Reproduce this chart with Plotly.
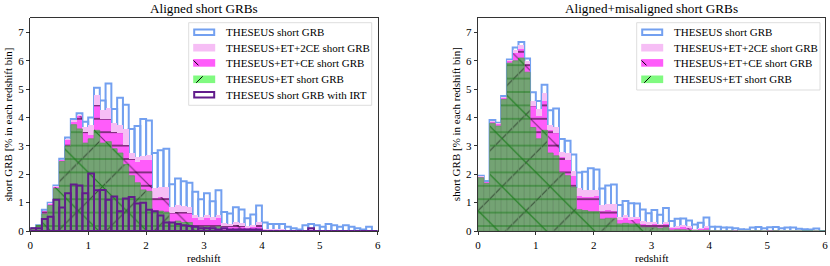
import plotly.graph_objects as go

W, H = 830, 266

# ---------------- data (percent of GRBs per redshift bin, bin width 0.1) ----------------
bin_left = [round(0.1 * i, 1) for i in range(60)]
z_mid = [round(b + 0.05, 2) for b in bin_left]

# Left panel: aligned short GRBs
theseus_L = [0.1, 0.2, 0.75, 1.0, 1.6, 2.55, 3.3, 3.95, 4.15, 3.85,
             4.0, 5.05, 4.6, 5.2, 4.3, 4.7, 4.45, 3.6, 3.7, 3.95,
             3.9, 2.75, 2.85, 2.9, 1.65, 1.85, 1.75, 1.7, 1.38, 1.12,
             1.33, 1.05, 1.44, 0.67, 0.62, 0.84, 0.76, 0.45, 0.58, 0.9,
             0.3, 0.25, 0.25, 0.25, 0.15, 0.1, 0.05, 0.2, 0.25, 0.2,
             0.15, 0.25, 0.2, 0.15, 0.2, 0.15, 0.1, 0.05, 0.15, 0.0]
et2ce_L = [0.1, 0.2, 0.72, 0.97, 1.57, 2.52, 3.26, 3.9, 4.1, 3.65,
           3.75, 4.8, 4.25, 4.35, 3.8, 3.75, 3.6, 2.75, 2.6, 2.65,
           2.68, 1.5, 1.55, 1.55, 0.85, 0.9, 0.88, 0.85, 0.55, 0.5,
           0.55, 0.5, 0.58, 0.27, 0.25, 0.3, 0.28, 0.18, 0.22, 0.3,
           0.08, 0.06, 0.06, 0.06, 0.04, 0.03, 0.02, 0.05, 0.06, 0.05,
           0.04, 0.05, 0.04, 0.03, 0.04, 0.03, 0.02, 0.01, 0.03, 0.0]
etce_L = [0.1, 0.2, 0.7, 0.95, 1.55, 2.5, 3.2, 3.85, 4.05, 3.5,
          3.4, 4.45, 3.95, 3.95, 3.5, 3.45, 3.05, 2.55, 2.45, 2.5,
          2.52, 1.15, 1.2, 1.15, 0.65, 0.68, 0.66, 0.62, 0.45, 0.4,
          0.45, 0.38, 0.45, 0.18, 0.16, 0.2, 0.18, 0.1, 0.14, 0.2,
          0.04, 0.03, 0.03, 0.03, 0.02, 0.02, 0.01, 0.03, 0.03, 0.02,
          0.02, 0.03, 0.02, 0.02, 0.02, 0.02, 0.01, 0.01, 0.02, 0.0]
et_L = [0.1, 0.2, 0.6, 0.9, 1.5, 2.45, 3.0, 3.75, 3.6, 3.1,
        3.25, 3.55, 3.1, 3.15, 2.9, 2.75, 2.35, 1.95, 1.7, 1.45,
        1.4, 0.7, 0.7, 0.65, 0.3, 0.35, 0.3, 0.3, 0.15, 0.13,
        0.15, 0.12, 0.15, 0.03, 0.03, 0.03, 0.03, 0.02, 0.02, 0.03,
        0.01, 0.01, 0.01, 0.01, 0.0, 0.0, 0.0, 0.01, 0.01, 0.0,
        0.0, 0.01, 0.0, 0.0, 0.0, 0.0, 0.0, 0.0, 0.0, 0.0]
irt_L = [0.1, 0.1, 0.42, 0.5, 1.1, 0.83, 1.33, 1.64, 1.6, 1.33,
         2.03, 1.44, 1.45, 1.1, 1.22, 0.7, 1.15, 1.2, 0.97, 1.0,
         0.75, 0.7, 0.55, 0.3, 0.3, 0.25, 0.2, 0.18, 0.15, 0.1,
         0.1, 0.1, 0.05, 0.1, 0.05, 0.05, 0.05, 0.05, 0.05, 0.05,
         0.0, 0.0, 0.0, 0.0, 0.0, 0.0, 0.0, 0.0, 0.1, 0.0,
         0.0, 0.0, 0.0, 0.0, 0.0, 0.0, 0.0, 0.0, 0.0, 0.0]

# Right panel: aligned + misaligned short GRBs
theseus_R = [1.95, 1.76, 3.91, 3.82, 4.76, 6.05, 6.47, 6.66, 6.08, 4.89,
             4.58, 5.16, 4.26, 4.32, 3.24, 3.18, 2.7, 2.06, 2.09, 2.21,
             2.17, 1.5, 1.6, 1.64, 0.92, 1.06, 0.98, 0.97, 0.76, 0.63,
             0.74, 0.57, 0.81, 0.35, 0.43, 0.44, 0.37, 0.23, 0.29, 0.48,
             0.15, 0.15, 0.12, 0.12, 0.1, 0.06, 0.05, 0.12, 0.14, 0.1,
             0.13, 0.14, 0.1, 0.12, 0.12, 0.08, 0.06, 0.05, 0.09, 0.0]
et2ce_R = [1.93, 1.74, 3.88, 3.8, 4.72, 6.03, 6.38, 6.55, 6.0, 4.6,
           4.3, 4.85, 3.75, 3.65, 2.8, 2.75, 2.1, 1.5, 1.45, 1.45,
           1.45, 0.9, 0.95, 0.95, 0.5, 0.55, 0.5, 0.5, 0.35, 0.3,
           0.3, 0.25, 0.3, 0.15, 0.17, 0.2, 0.18, 0.08, 0.1, 0.18,
           0.04, 0.04, 0.03, 0.03, 0.03, 0.02, 0.02, 0.03, 0.03, 0.02,
           0.03, 0.03, 0.02, 0.02, 0.02, 0.02, 0.01, 0.01, 0.02, 0.0]
etce_R = [1.92, 1.72, 3.86, 3.78, 4.7, 6.0, 6.26, 6.42, 5.9, 4.4,
          4.05, 4.6, 3.55, 3.45, 2.6, 2.5, 1.95, 1.25, 1.2, 1.2,
          1.22, 0.72, 0.75, 0.72, 0.4, 0.45, 0.4, 0.42, 0.25, 0.22,
          0.24, 0.2, 0.25, 0.1, 0.12, 0.14, 0.12, 0.05, 0.07, 0.12,
          0.02, 0.02, 0.02, 0.02, 0.02, 0.01, 0.01, 0.02, 0.02, 0.01,
          0.02, 0.02, 0.01, 0.01, 0.01, 0.01, 0.0, 0.0, 0.01, 0.0]
et_R = [1.88, 1.68, 3.8, 3.7, 4.64, 5.92, 6.0, 6.1, 5.6, 3.65,
        3.25, 3.55, 2.75, 2.65, 2.05, 1.95, 1.55, 0.75, 0.72, 0.68,
        0.68, 0.42, 0.45, 0.45, 0.25, 0.27, 0.25, 0.25, 0.13, 0.12,
        0.12, 0.1, 0.12, 0.03, 0.04, 0.04, 0.03, 0.02, 0.02, 0.03,
        0.01, 0.01, 0.01, 0.01, 0.0, 0.0, 0.0, 0.01, 0.01, 0.0,
        0.0, 0.01, 0.0, 0.0, 0.0, 0.0, 0.0, 0.0, 0.0, 0.0]

x_ticks = [0, 1, 2, 3, 4, 5, 6]
y_ticks = [0, 1, 2, 3, 4, 5, 6, 7]

titles = ["Aligned short GRBs", "Aligned+misaligned short GRBs"]
x_label = "redshift"
y_label = "short GRB [% in each redshift bin]"
legend_labels = ["THESEUS short GRB", "THESEUS+ET+2CE short GRB",
                 "THESEUS+ET+CE short GRB", "THESEUS+ET short GRB",
                 "THESEUS short GRB with IRT"]

# ---------------- style ----------------
FONT = "'Liberation Serif', 'Times New Roman', Times, serif"
BLUE = "rgb(115,160,240)"
PINK = "rgb(246,190,245)"
MAG = "rgb(255,92,250)"
GREEN = "rgb(116,163,116)"
GREEN_EDGE = "rgb(100,148,100)"
GREEN_HATCH = "rgb(30,125,30)"
LEG_GREEN = "rgb(128,250,128)"
PURPLE = "rgb(98,28,140)"

fig = go.Figure()


def add_panel(xa, ya, blue, pink, mag, green, irt=None):
    base = dict(x=z_mid, width=0.1, xaxis=xa, yaxis=ya, showlegend=False,
                hoverinfo="skip")
    fig.add_trace(go.Bar(y=blue, marker=dict(color="rgba(0,0,0,0)",
                                             line=dict(color=BLUE, width=2)), **base))
    fig.add_trace(go.Bar(y=pink, marker=dict(color=PINK, line=dict(width=0)), **base))
    fig.add_trace(go.Bar(y=mag, marker=dict(
        color=MAG, line=dict(width=0),
        pattern=dict(shape="\\", fillmode="overlay", fgcolor="black",
                     size=34, solidity=0.035)), **base))
    fig.add_trace(go.Bar(y=mag, marker=dict(
        color="black", line=dict(width=0),
        pattern=dict(shape="-", fillmode="replace", size=13.4, solidity=0.07)), **base))
    fig.add_trace(go.Bar(y=green, marker=dict(
        color=GREEN, line=dict(color=GREEN_EDGE, width=0.8),
        pattern=dict(shape="/", fillmode="overlay", fgcolor="black",
                     size=34, solidity=0.035)), **base))
    fig.add_trace(go.Bar(y=green, marker=dict(
        color=GREEN_HATCH, line=dict(width=0),
        pattern=dict(shape="\\", fillmode="replace", size=34, solidity=0.035)), **base))
    fig.add_trace(go.Bar(y=green, marker=dict(
        color=GREEN_HATCH, line=dict(width=0),
        pattern=dict(shape="-", fillmode="replace", size=13.4, solidity=0.07)), **base))
    if irt is not None:
        fig.add_trace(go.Bar(y=irt, marker=dict(color="rgba(0,0,0,0)",
                                                line=dict(color=PURPLE, width=2)), **base))


add_panel("x", "y", theseus_L, et2ce_L, etce_L, et_L, irt_L)
add_panel("x2", "y2", theseus_R, et2ce_R, etce_R, et_R)

# pixel geometry of the two axes boxes
panels = [(30.3, 377.7), (478.0, 825.0)]
top_px, bot_px = 18.3, 231.0


def px(x):
    return x / W


def py(y):
    return 1 - y / H


axis_common = dict(showline=True, linecolor="black", linewidth=0.8, mirror=True,
                   ticks="outside", ticklen=3.5, tickwidth=0.8, tickcolor="black",
                   showgrid=False, zeroline=False, automargin=False,
                   tickfont=dict(family=FONT, size=11, color="black"))

layout = dict(
    width=W, height=H, margin=dict(l=0, r=0, t=0, b=0, pad=0, autoexpand=False),
    paper_bgcolor="white", plot_bgcolor="white",
    barmode="overlay", bargap=0, showlegend=False,
    font=dict(family=FONT, size=11, color="black"),
)
for i, (x0, x1) in enumerate(panels):
    sfx = "" if i == 0 else str(i + 1)
    layout["xaxis" + sfx] = dict(domain=[px(x0), px(x1)], range=[0, 6],
                                 tickvals=x_ticks, anchor="y" + sfx, **axis_common)
    layout["yaxis" + sfx] = dict(domain=[py(bot_px), py(top_px)], range=[0, 7.5],
                                 tickvals=y_ticks, anchor="x" + sfx, **axis_common)
fig.update_layout(**layout)

annotations = []
shapes = []
for i, (x0, x1) in enumerate(panels):
    xc = (x0 + x1) / 2
    annotations.append(dict(text=titles[i], x=px(xc), y=py(8.3), xref="paper", yref="paper",
                            showarrow=False, xanchor="center", yanchor="middle",
                            font=dict(family=FONT, size=13.2, color="black")))
    annotations.append(dict(text=x_label, x=px(xc), y=py(257.5), xref="paper", yref="paper",
                            showarrow=False, xanchor="center", yanchor="middle",
                            font=dict(family=FONT, size=11, color="black")))
    annotations.append(dict(text=y_label, x=px(x0 - 22.5), y=py((top_px + bot_px) / 2),
                            xref="paper", yref="paper", showarrow=False, textangle=-90,
                            xanchor="center", yanchor="middle",
                            font=dict(family=FONT, size=11, color="black")))

# manual legends (matplotlib style)
leg_boxes = [(188.7, 371.7, 22.7, 105.3, 5), (636.7, 820.0, 22.7, 90.0, 4)]
row_y = [32.3, 47.7, 62.9, 79.3, 94.7]
for (lx0, lx1, ly0, ly1, n) in leg_boxes:
    shapes.append(dict(type="rect", xref="paper", yref="paper",
                       x0=px(lx0), x1=px(lx1), y0=py(ly1), y1=py(ly0),
                       line=dict(color="rgb(212,212,212)", width=0.8),
                       fillcolor="rgba(255,255,255,0.85)", layer="above"))
    sx0, sx1 = lx0 + 4.5, lx0 + 26.5
    for k in range(n):
        c = row_y[k]
        y0, y1 = c - 3.8, c + 3.8
        if k == 0:
            shapes.append(dict(type="rect", xref="paper", yref="paper",
                               x0=px(sx0 + 1), x1=px(sx1 - 1), y0=py(y1 - 1), y1=py(y0 + 1),
                               line=dict(color=BLUE, width=2), fillcolor="white", layer="above"))
        elif k == 1:
            shapes.append(dict(type="rect", xref="paper", yref="paper",
                               x0=px(sx0), x1=px(sx1), y0=py(y1), y1=py(y0),
                               line=dict(width=0), fillcolor=PINK, layer="above"))
        elif k == 2:
            shapes.append(dict(type="rect", xref="paper", yref="paper",
                               x0=px(sx0), x1=px(sx1), y0=py(y1), y1=py(y0),
                               line=dict(width=0), fillcolor=MAG, layer="above"))
            shapes.append(dict(type="line", xref="paper", yref="paper",
                               x0=px(sx0 + 0.3), y0=py(c - 2.5), x1=px(sx0 + 5.3), y1=py(c + 2.5),
                               line=dict(color="black", width=1), layer="above"))
        elif k == 3:
            shapes.append(dict(type="rect", xref="paper", yref="paper",
                               x0=px(sx0), x1=px(sx1), y0=py(y1), y1=py(y0),
                               line=dict(width=0), fillcolor=LEG_GREEN, layer="above"))
            shapes.append(dict(type="line", xref="paper", yref="paper",
                               x0=px(sx0 + 3), y0=py(c + 3.5), x1=px(sx0 + 9.5), y1=py(c - 3),
                               line=dict(color="black", width=1), layer="above"))
        elif k == 4:
            shapes.append(dict(type="rect", xref="paper", yref="paper",
                               x0=px(sx0 + 1), x1=px(sx1 - 1), y0=py(y1 - 1), y1=py(y0 + 1),
                               line=dict(color=PURPLE, width=2), fillcolor="white", layer="above"))
        annotations.append(dict(text=legend_labels[k], x=px(lx0 + 35.6), y=py(c),
                                xref="paper", yref="paper", showarrow=False,
                                xanchor="left", yanchor="middle",
                                font=dict(family=FONT, size=11, color="black")))

fig.update_layout(annotations=annotations, shapes=shapes)
fig.write_html(
    "out.html",
    config={"displayModeBar": False, "staticPlot": True},
    post_script="document.body.style.margin='0';document.body.style.padding='0';"
                "document.body.style.overflow='hidden';",
)
